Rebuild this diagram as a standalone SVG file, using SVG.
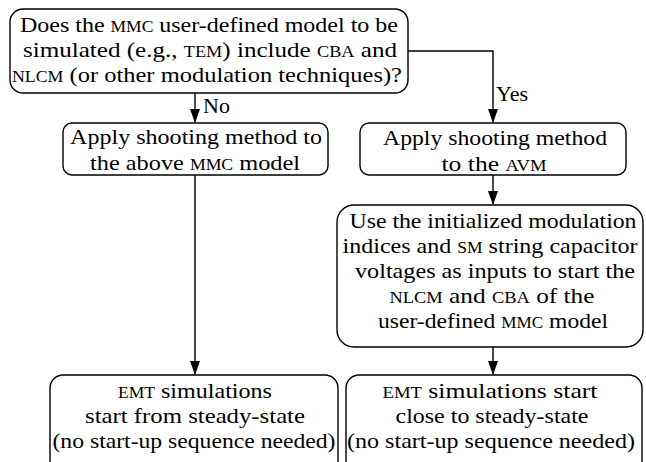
<svg xmlns="http://www.w3.org/2000/svg" width="646" height="462" viewBox="0 0 646 462" font-family="Liberation Serif, Nimbus Roman, FreeSerif, Times, Georgia, DejaVu Serif, serif">
<style>
.box{fill:#fff;stroke:#000;stroke-width:1.4}
text{font-family:"Liberation Serif","Nimbus Roman","Nimbus Roman No9 L",FreeSerif,Times,"Times New Roman",Georgia,"DejaVu Serif","Noto Serif",serif;font-size:22px;fill:#000}
.t{text-anchor:middle}
.sc{font-size:16px}
.c{fill:none;stroke:#000;stroke-width:1.4}
</style>
<rect width="646" height="462" fill="#fff"/>
<g id="connectors">
<path class="c" d="M195 93 V122"/>
<path class="c" d="M408 51 H493 V122"/>
<path class="c" d="M195 175 V374"/>
<path class="c" d="M493 175 V204"/>
<path class="c" d="M493 347 V374"/>
<path d="M190 109 L200 109 L195 123 Z"/>
<path d="M488 109 L498 109 L493 123 Z"/>
<path d="M190 361 L200 361 L195 375 Z"/>
<path d="M488 191 L498 191 L493 205 Z"/>
<path d="M488 361 L498 361 L493 375 Z"/>
<text x="203" y="113">No</text>
<text x="496" y="101">Yes</text>
</g>
<g id="q">
<rect class="box" x="10" y="9" width="398" height="84" rx="13"/>
<text class="t" x="209" y="32" textLength="378" lengthAdjust="spacingAndGlyphs">Does the <tspan class="sc">MMC</tspan> user-defined model to be</text>
<text class="t" x="210" y="57" textLength="374" lengthAdjust="spacingAndGlyphs">simulated (e.g., <tspan class="sc">TEM</tspan>) include <tspan class="sc">CBA</tspan> and</text>
<text class="t" x="207" y="82" textLength="390" lengthAdjust="spacingAndGlyphs"><tspan class="sc">NLCM</tspan> (or other modulation techniques)?</text>
</g>
<g id="shootMMC">
<rect class="box" x="63" y="123" width="265" height="52" rx="9"/>
<text class="t" x="196" y="144" textLength="252" lengthAdjust="spacingAndGlyphs">Apply shooting method to</text>
<text class="t" x="195" y="170" textLength="210" lengthAdjust="spacingAndGlyphs">the above <tspan class="sc">MMC</tspan> model</text>
</g>
<g id="shootAVM">
<rect class="box" x="360" y="123" width="266" height="52" rx="9"/>
<text class="t" x="495" y="145" textLength="224" lengthAdjust="spacingAndGlyphs">Apply shooting method</text>
<text class="t" x="494" y="171" textLength="105" lengthAdjust="spacingAndGlyphs">to the <tspan class="sc">AVM</tspan></text>
</g>
<g id="init">
<rect class="box" x="337" y="205" width="306" height="142" rx="17"/>
<text class="t" x="493" y="228" textLength="287" lengthAdjust="spacingAndGlyphs">Use the initialized modulation</text>
<text class="t" x="490" y="253" textLength="295" lengthAdjust="spacingAndGlyphs">indices and <tspan class="sc">SM</tspan> string capacitor</text>
<text class="t" x="495" y="278" textLength="280" lengthAdjust="spacingAndGlyphs">voltages as inputs to start the</text>
<text class="t" x="492" y="303" textLength="205" lengthAdjust="spacingAndGlyphs"><tspan class="sc">NLCM</tspan> and <tspan class="sc">CBA</tspan> of the</text>
<text class="t" x="493" y="328" textLength="230" lengthAdjust="spacingAndGlyphs">user-defined <tspan class="sc">MMC</tspan> model</text>
</g>
<g id="emtSteady">
<rect class="box" x="50" y="375" width="288" height="100" rx="13"/>
<text class="t" x="195" y="398" textLength="154" lengthAdjust="spacingAndGlyphs"><tspan class="sc">EMT</tspan> simulations</text>
<text class="t" x="195" y="423" textLength="220" lengthAdjust="spacingAndGlyphs">start from steady-state</text>
<text class="t" x="194" y="448" textLength="283" lengthAdjust="spacingAndGlyphs">(no start-up sequence needed)</text>
</g>
<g id="emtClose">
<rect class="box" x="346" y="375" width="296" height="100" rx="13"/>
<text class="t" x="490" y="398" textLength="215" lengthAdjust="spacingAndGlyphs"><tspan class="sc">EMT</tspan> simulations start</text>
<text class="t" x="492" y="423" textLength="193" lengthAdjust="spacingAndGlyphs">close to steady-state</text>
<text class="t" x="491" y="448" textLength="288" lengthAdjust="spacingAndGlyphs">(no start-up sequence needed)</text>
</g>
</svg>
